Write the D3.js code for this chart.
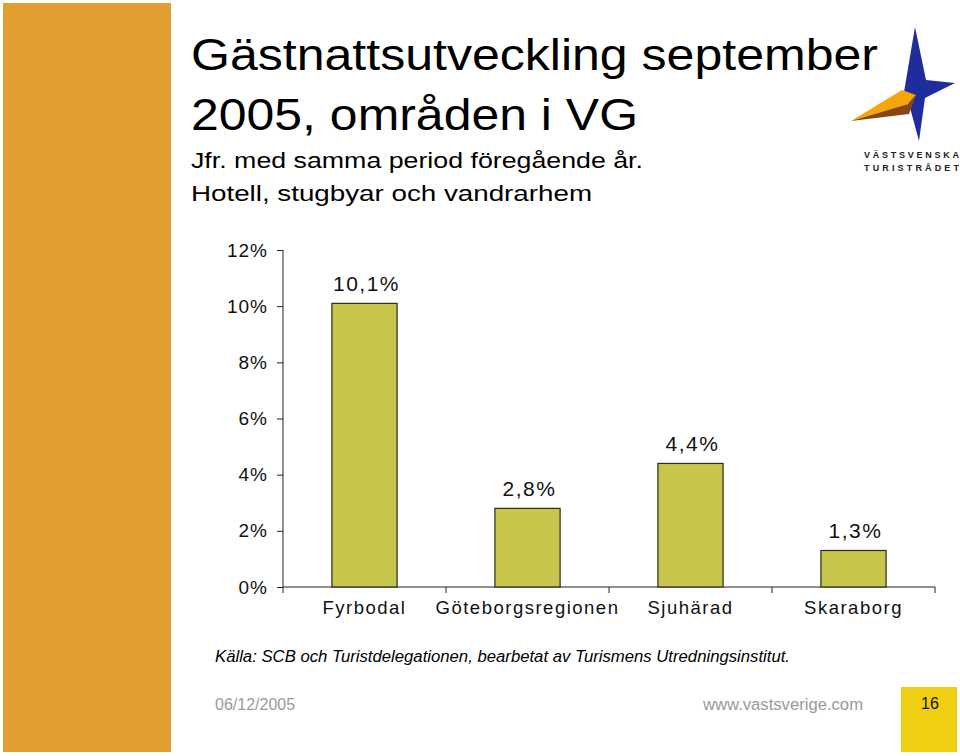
<!DOCTYPE html>
<html>
<head>
<meta charset="utf-8">
<script src="https://cdn.jsdelivr.net/npm/d3@7"></script>
<style>
  body { margin: 0; background: #fff; }
  text { font-family: "Liberation Sans", Arial, sans-serif; }
</style>
</head>
<body>
<script>
// Gästnattsutveckling per område, september 2005

const categories = ["Fyrbodal", "Göteborgsregionen", "Sjuhärad", "Skaraborg"];
const values = [10.1, 2.8, 4.4, 1.3];
const valueLabels = ["10,1%", "2,8%", "4,4%", "1,3%"];
const yTicks = [0, 2, 4, 6, 8, 10, 12];

const width = 960, height = 756;

const svg = d3.select("body")
    .append("svg")
    .attr("width", width)
    .attr("height", height);

// orange band on the left
svg.append("rect")
    .attr("x", 3).attr("y", 3)
    .attr("width", 168).attr("height", 749)
    .attr("fill", "#e19f31");

// titles (the slide text is a bit wider than plain Arial, so stretch it)
function slideText(xp, yp, size, len, str) {
    return svg.append("text")
        .attr("x", xp).attr("y", yp)
        .attr("font-size", size)
        .attr("textLength", len)
        .attr("lengthAdjust", "spacingAndGlyphs")
        .attr("fill", "#000")
        .text(str);
}
slideText(191, 70, 44, 687, "Gästnattsutveckling september");
slideText(191, 130, 44, 447, "2005, områden i VG");
slideText(191, 168, 22, 452, "Jfr. med samma period föregående år.");
slideText(191, 201, 22, 401, "Hotell, stugbyar och vandrarhem");

// logo
const logo = svg.append("g");
logo.append("path")
    .attr("d", "M915,27 L926,80 L955,83 L925,98 L919,141 L909,104 L904,92 Z")
    .attr("fill", "#1f2d9c");
logo.append("path")
    .attr("d", "M851,121 L902,90 L916,95 L908,104 Z")
    .attr("fill", "#f5a40a");
logo.append("path")
    .attr("d", "M851,121 L908,104 L916,95 L909,114 Z")
    .attr("fill", "#8a4612");
logo.append("text")
    .attr("x", 864).attr("y", 158)
    .attr("font-size", 9).attr("font-weight", "bold")
    .attr("textLength", 95).attr("lengthAdjust", "spacing")
    .attr("fill", "#222")
    .text("VÄSTSVENSKA");
logo.append("text")
    .attr("x", 864).attr("y", 171)
    .attr("font-size", 9).attr("font-weight", "bold")
    .attr("textLength", 95).attr("lengthAdjust", "spacing")
    .attr("fill", "#222")
    .text("TURISTRÅDET");

// scales
const x = d3.scaleBand()
    .domain(categories)
    .range([283, 935])
    .paddingInner(0.6)
    .paddingOuter(0.3);

const y = d3.scaleLinear()
    .domain([0, 12])
    .range([587, 250]);

// y axis
const yAxis = svg.append("g")
    .attr("transform", "translate(283,0)")
    .call(d3.axisLeft(y).tickValues(yTicks).tickSize(6).tickPadding(9)
        .tickFormat(d => d + "%"));
yAxis.selectAll("path, line").attr("stroke", "#222");
yAxis.selectAll("text")
    .attr("font-size", 19)
    .attr("letter-spacing", 1)
    .attr("fill", "#111")
    .style("font-family", "Liberation Sans, Arial, sans-serif");
yAxis.select(".domain").attr("d", "M0," + y(12) + "V" + y(0));

// x axis line with ticks at category boundaries
const bounds = d3.range(categories.length + 1).map(i => 283 + i * x.step());
svg.append("line")
    .attr("x1", 283).attr("x2", 935)
    .attr("y1", y(0)).attr("y2", y(0))
    .attr("stroke", "#222");
svg.selectAll(".xtick")
    .data(bounds)
    .enter()
    .append("line")
    .attr("x1", d => d).attr("x2", d => d)
    .attr("y1", y(0)).attr("y2", y(0) + 6)
    .attr("stroke", "#222");

svg.selectAll(".catlabel")
    .data(categories)
    .enter()
    .append("text")
    .attr("x", d => x(d) + x.bandwidth() / 2)
    .attr("y", 614)
    .attr("text-anchor", "middle")
    .attr("font-size", 18.5)
    .attr("letter-spacing", 1.5)
    .attr("fill", "#111")
    .text(d => d);

// bars
svg.selectAll(".bar")
    .data(values)
    .enter()
    .append("rect")
    .attr("x", (d, i) => x(categories[i]))
    .attr("y", d => y(d))
    .attr("width", x.bandwidth())
    .attr("height", d => y(0) - y(d))
    .attr("fill", "#c6c64c")
    .attr("stroke", "#2b2b1a")
    .attr("stroke-width", 1.2);

svg.selectAll(".vlabel")
    .data(values)
    .enter()
    .append("text")
    .attr("x", (d, i) => x(categories[i]) + x.bandwidth() / 2 + 2)
    .attr("y", d => y(d) - 12)
    .attr("text-anchor", "middle")
    .attr("font-size", 21)
    .attr("letter-spacing", 1.5)
    .attr("fill", "#111")
    .text((d, i) => valueLabels[i]);

// source
svg.append("text")
    .attr("x", 215).attr("y", 662)
    .attr("font-size", 16)
    .attr("font-style", "italic")
    .attr("textLength", 575)
    .attr("lengthAdjust", "spacingAndGlyphs")
    .attr("fill", "#000")
    .text("Källa: SCB och Turistdelegationen, bearbetat av Turismens Utredningsinstitut.");

// footer
svg.append("text")
    .attr("x", 215).attr("y", 710)
    .attr("font-size", 16)
    .attr("fill", "#9a9a9a")
    .text("06/12/2005");
svg.append("text")
    .attr("x", 703).attr("y", 710)
    .attr("font-size", 16)
    .attr("textLength", 160)
    .attr("lengthAdjust", "spacingAndGlyphs")
    .attr("fill", "#9a9a9a")
    .text("www.vastsverige.com");
svg.append("rect")
    .attr("x", 901).attr("y", 687)
    .attr("width", 56).attr("height", 65)
    .attr("fill", "#f0cf12");
svg.append("text")
    .attr("x", 930).attr("y", 709)
    .attr("text-anchor", "middle")
    .attr("font-size", 16)
    .attr("fill", "#111")
    .text("16");
</script>
</body>
</html>
